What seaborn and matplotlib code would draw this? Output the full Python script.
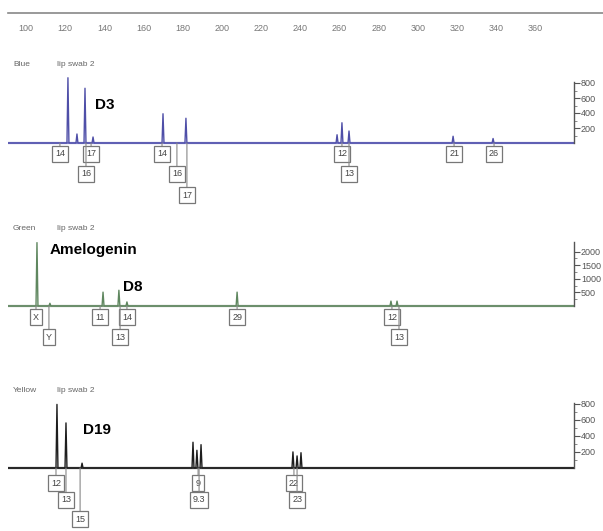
"""
Electropherogram of a lip swab: three dye panels with allele call boxes.
"""

import numpy as np
import pandas as pd
import matplotlib
matplotlib.use("Agg")
import matplotlib.pyplot as plt
from matplotlib.ticker import MultipleLocator, FixedLocator
import seaborn as sns

# ------------------------------------------------------------
# Data (fragment size in bp, peak height in RFU)
# ------------------------------------------------------------
ruler_ticks = [100, 120, 140, 160, 180, 200, 220, 240, 260, 280, 300, 320, 340, 360]

blue_sizes = [121.4, 126.0, 130.1, 134.2, 169.9, 181.6, 258.7, 261.2, 264.8, 317.9, 338.3]
blue_heights = [870, 120, 730, 80, 390, 330, 110, 270, 160, 90, 60]
blue_calls = ["14", "17", "16", "14", "16", "17", "12", "13", "21", "26"]
blue_call_sizes = [117.3, 133.2, 130.6, 169.4, 177.0, 182.1, 261.2, 264.8, 318.4, 338.8]
blue_call_rows = [0, 0, 1, 0, 1, 2, 0, 1, 0, 0]
blue_yticks = [200, 400, 600, 800]

green_sizes = [105.6, 112.2, 139.3, 147.4, 151.5, 207.7, 286.2, 289.3]
green_heights = [2330, 100, 510, 580, 150, 510, 180, 180]
green_calls = ["X", "Y", "11", "14", "13", "29", "12", "13"]
green_call_sizes = [105.1, 111.7, 137.8, 151.5, 148.0, 207.7, 286.7, 290.3]
green_call_rows = [0, 1, 0, 0, 1, 0, 0, 1]
green_yticks = [500, 1000, 1500, 2000]

yellow_sizes = [115.8, 120.4, 128.6, 185.2, 187.2, 189.3, 236.2, 238.3, 240.3]
yellow_heights = [790, 560, 60, 320, 220, 290, 200, 150, 190]
yellow_calls = ["12", "13", "15", "9", "9.3", "22", "23"]
yellow_call_sizes = [115.3, 120.4, 127.6, 187.8, 188.3, 236.7, 238.3]
yellow_call_rows = [0, 1, 2, 0, 1, 0, 1]
yellow_yticks = [200, 400, 600, 800]

# ------------------------------------------------------------
# Layout helpers (pixel based, figure is 603 x 531)
# ------------------------------------------------------------
W, H = 603, 531
PX0, PX_PER_BP = 26, 1.96


def px_to_bp(px):
    return 100 + (px - PX0) / PX_PER_BP


def add_axes_px(fig, left, top, right, bottom):
    return fig.add_axes([left / W, 1 - bottom / H, (right - left) / W, (bottom - top) / H])


def build_trace(sizes, heights, lo, hi, half=0.5):
    xs, ys = [lo], [0]
    for s, h in sorted(zip(sizes, heights)):
        xs += [s - half, s, s + half]
        ys += [0, h, 0]
    xs.append(hi)
    ys.append(0)
    return pd.DataFrame({"size": xs, "rfu": ys})


def draw_panel(fig, name, sizes, heights, calls, call_sizes, call_rows, yticks,
               color, base_color, base_px, top_px, bottom_px, ppu, row_offsets, spine_top):
    ax = add_axes_px(fig, 8, top_px, 574, bottom_px)
    lo, hi = px_to_bp(8), px_to_bp(574)
    ax.set_xlim(lo, hi)
    ax.set_ylim(-(bottom_px - base_px) / ppu, (base_px - top_px) / ppu)

    ax.axhline(0, color=base_color, lw=1.6, zorder=1)
    df = build_trace(sizes, heights, lo, hi)
    sns.lineplot(data=df, x="size", y="rfu", sort=False, estimator=None,
                 color=color, lw=1.0, ax=ax, zorder=2)

    for lab, s, r in zip(calls, call_sizes, call_rows):
        ax.annotate(
            lab, xy=(s, 0), xytext=(0, -row_offsets[r]), textcoords="offset pixels",
            ha="center", va="center", fontsize=6.5, color="#444",
            bbox=dict(boxstyle="square,pad=0.35", fc="white", ec="#777", lw=0.9),
            arrowprops=dict(arrowstyle="-", color="#888", lw=0.8, shrinkA=0, shrinkB=0),
            zorder=3,
        )

    for side in ["left", "top", "bottom"]:
        ax.spines[side].set_visible(False)
    ax.spines["right"].set_bounds(0, spine_top)
    ax.spines["right"].set_color("#555")
    ax.spines["right"].set_linewidth(1.0)
    ax.yaxis.tick_right()
    ax.set_yticks(yticks)
    ax.yaxis.set_minor_locator(FixedLocator([t - yticks[0] / 2 for t in yticks]))
    ax.tick_params(axis="y", which="major", direction="out", length=4, width=0.8,
                   colors="#555", labelsize=6.5, pad=1)
    ax.tick_params(axis="y", which="minor", direction="out", length=2, width=0.6, colors="#777")
    ax.set_xticks([])
    ax.set_xlabel("")
    ax.set_ylabel("")
    ax.patch.set_alpha(0)

    fig.text(13 / W, 1 - (top_px - 5) / H, name, fontsize=6, color="#666", va="center")
    fig.text(57 / W, 1 - (top_px - 5) / H, "lip swab 2", fontsize=6, color="#666", va="center")
    return ax


# ------------------------------------------------------------
# Figure
# ------------------------------------------------------------
sns.set_style("white")
plt.rcParams["font.family"] = ["Liberation Sans", "DejaVu Sans"]

fig = plt.figure(figsize=(W / 100, H / 100), dpi=100)
fig.patch.set_facecolor("white")

# size ruler
rax = add_axes_px(fig, 8, 5, 603, 13)
rax.set_xlim(px_to_bp(8), px_to_bp(603))
rax.set_ylim(0, 1)
for side in ["left", "top", "right"]:
    rax.spines[side].set_visible(False)
rax.spines["bottom"].set_color("#888")
rax.spines["bottom"].set_linewidth(1.2)
rax.set_yticks([])
rax.set_xticks(ruler_ticks)
rax.set_xticklabels([str(t) for t in ruler_ticks])
rax.xaxis.set_minor_locator(MultipleLocator(2.5))
rax.tick_params(axis="x", which="major", direction="in", length=5, width=0.8,
                colors="#777", labelsize=6.5, pad=8)
rax.tick_params(axis="x", which="minor", direction="inout", length=3, width=0.6, colors="#999")
rax.patch.set_alpha(0)

draw_panel(fig, "Blue", blue_sizes, blue_heights, blue_calls, blue_call_sizes,
           blue_call_rows, blue_yticks, "#4f4fa8", "#8a8ad0",
           base_px=143, top_px=70, bottom_px=210, ppu=0.075,
           row_offsets=[11, 31, 52], spine_top=820)

draw_panel(fig, "Green", green_sizes, green_heights, green_calls, green_call_sizes,
           green_call_rows, green_yticks, "#5f875f", "#8aa38a",
           base_px=306, top_px=233, bottom_px=352, ppu=0.0272,
           row_offsets=[11, 31, 52], spine_top=2350)

draw_panel(fig, "Yellow", yellow_sizes, yellow_heights, yellow_calls, yellow_call_sizes,
           yellow_call_rows, yellow_yticks, "#1e1e1e", "#444444",
           base_px=468, top_px=396, bottom_px=531, ppu=0.0805,
           row_offsets=[15, 32, 51], spine_top=810)

# locus names
for txt, x, y in [("D3", 95, 105), ("Amelogenin", 50, 250), ("D8", 123, 287), ("D19", 83, 430)]:
    fig.text(x / W, 1 - y / H, txt, fontsize=11, fontweight="bold", color="black", va="center")

plt.savefig("out.png", dpi=100)
plt.close()
